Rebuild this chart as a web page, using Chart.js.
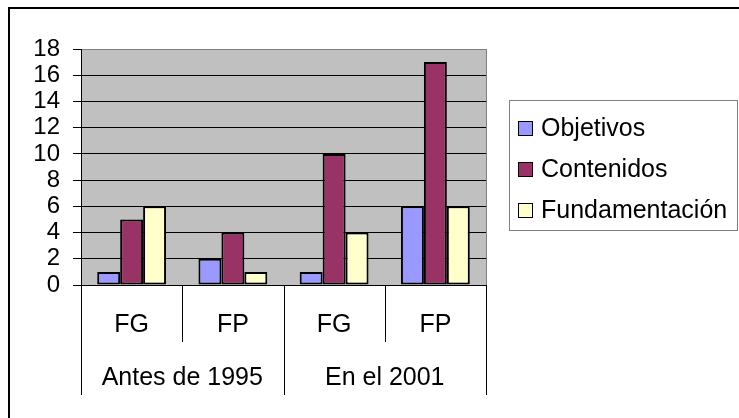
<!DOCTYPE html>
<html>
<head>
<meta charset="utf-8">
<script src="https://cdn.jsdelivr.net/npm/chart.js@4"></script>
<style>
  html, body { margin: 0; padding: 0; background: #fff; }
  canvas { display: block; }
</style>
</head>
<body>
<canvas id="chart" width="739" height="418"></canvas>
<script>
const categories = ["FG", "FP", "FG", "FP"];
const groups = ["Antes de 1995", "En el 2001"];
const seriesNames = ["Objetivos", "Contenidos", "Fundamentación"];
const objetivos = [1, 2, 1, 6];
const contenidos = [5, 4, 10, 17];
const fundamentacion = [6, 1, 4, 6];
const yMax = 18;
const yStep = 2;

const colors = ["#9999FF", "#993366", "#FFFFCC"];
const FONT = "Liberation Sans, Arial, sans-serif";

// background, outer frame, plot fill
const framePlugin = {
  id: "frame",
  beforeDraw(chart) {
    const ctx = chart.ctx;
    const a = chart.chartArea;
    ctx.save();
    ctx.fillStyle = "#fff";
    ctx.fillRect(0, 0, chart.width, chart.height);
    ctx.strokeStyle = "#000";
    ctx.lineWidth = 2;
    ctx.strokeRect(9, 8, chart.width + 20, chart.height + 20);
    ctx.fillStyle = "#C0C0C0";
    ctx.fillRect(a.left, a.top, a.right - a.left, a.bottom - a.top);
    ctx.restore();
  },
  afterDatasetsDraw(chart) {
    const ctx = chart.ctx;
    const a = chart.chartArea;
    ctx.save();
    ctx.strokeStyle = "#808080";
    ctx.lineWidth = 1;
    ctx.beginPath();
    ctx.moveTo(Math.round(a.right) + 0.5, a.top);
    ctx.lineTo(Math.round(a.right) + 0.5, a.bottom);
    ctx.stroke();
    ctx.restore();
  }
};

// two level category axis drawn under the x scale
const groupAxisPlugin = {
  id: "groupAxis",
  afterDraw(chart) {
    const ctx = chart.ctx;
    const x = chart.scales.x;
    const base = chart.chartArea.bottom;
    const half = (x.getPixelForValue(1) - x.getPixelForValue(0)) / 2;
    ctx.save();
    ctx.strokeStyle = "#000";
    ctx.lineWidth = 1;
    for (let i = 0; i <= categories.length; i++) {
      const px = Math.round(x.getPixelForValue(0) - half + i * half * 2) + 0.5;
      const long = i % 2 === 0;
      ctx.beginPath();
      ctx.moveTo(px, base);
      ctx.lineTo(px, long ? 395 : 342);
      ctx.stroke();
    }
    ctx.fillStyle = "#000";
    ctx.font = "25px " + FONT;
    ctx.textAlign = "center";
    ctx.textBaseline = "alphabetic";
    categories.forEach((c, i) => {
      ctx.fillText(c, x.getPixelForValue(i), 332);
    });
    groups.forEach((g, i) => {
      const cx = (x.getPixelForValue(i * 2) + x.getPixelForValue(i * 2 + 1)) / 2;
      ctx.fillText(g, cx, 385);
    });
    ctx.restore();
  }
};

// legend box on the right
const legendPlugin = {
  id: "boxLegend",
  afterDraw(chart) {
    const ctx = chart.ctx;
    ctx.save();
    ctx.strokeStyle = "#808080";
    ctx.lineWidth = 1;
    ctx.strokeRect(509.5, 100.5, 228, 130);
    ctx.font = "25px " + FONT;
    ctx.textAlign = "left";
    ctx.textBaseline = "alphabetic";
    chart.data.datasets.forEach((ds, i) => {
      const baseY = 136 + i * 41;
      ctx.fillStyle = ds.backgroundColor;
      ctx.fillRect(518, baseY - 15, 15, 15);
      ctx.strokeStyle = "#000";
      ctx.strokeRect(518.5, baseY - 14.5, 14, 14);
      ctx.fillStyle = "#000";
      ctx.fillText(ds.label, 541, baseY);
    });
    ctx.restore();
  }
};

const seriesData = [objetivos, contenidos, fundamentacion];

new Chart(document.getElementById("chart"), {
  type: "bar",
  data: {
    labels: categories,
    datasets: seriesData.map((d, i) => ({
      label: seriesNames[i],
      data: d,
      backgroundColor: colors[i],
      borderColor: "#000",
      borderWidth: 2,
      borderSkipped: false,
      categoryPercentage: 0.68,
      barPercentage: 1
    }))
  },
  options: {
    responsive: false,
    animation: false,
    devicePixelRatio: 1,
    layout: { padding: { left: 0, top: 49, right: 253, bottom: 0 } },
    plugins: {
      legend: { display: false },
      tooltip: { enabled: false }
    },
    scales: {
      x: {
        afterFit(scale) { scale.height = 133; },
        ticks: { display: false },
        grid: { display: false },
        border: { display: true, color: "#000", width: 1 }
      },
      y: {
        min: 0,
        max: yMax,
        afterFit(scale) { scale.width = 81; },
        ticks: {
          stepSize: yStep,
          autoSkip: false,
          padding: 13,
          color: "#000",
          font: { family: FONT, size: 24 }
        },
        grid: {
          color: (c) => (c.tick && c.tick.value === yMax ? "#808080" : "#000"),
          tickColor: "#000",
          tickLength: 8,
          lineWidth: 1
        },
        border: { display: true, color: "#000", width: 1 }
      }
    }
  },
  plugins: [framePlugin, groupAxisPlugin, legendPlugin]
});
</script>
</body>
</html>
